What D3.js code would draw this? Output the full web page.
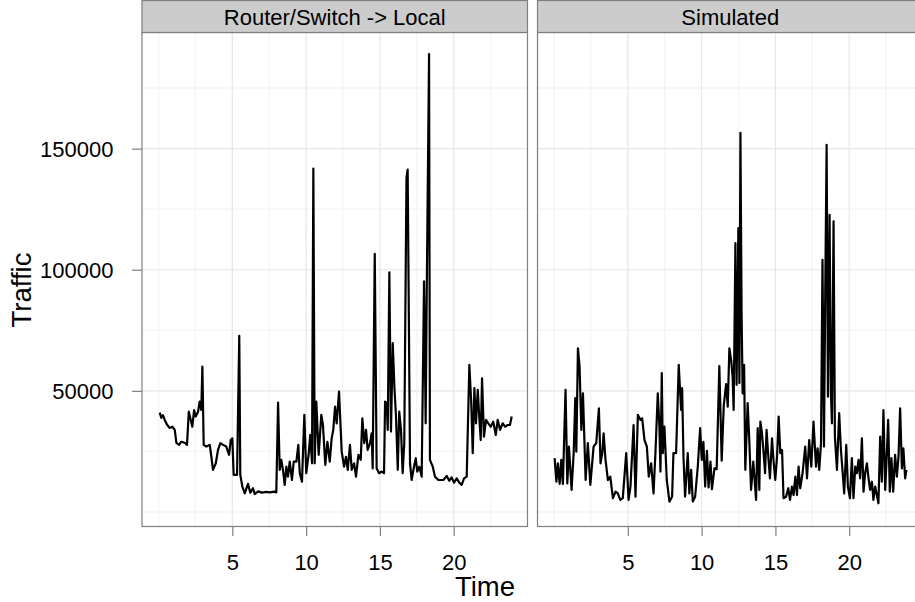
<!DOCTYPE html>
<html>
<head>
<meta charset="utf-8">
<script src="https://cdn.jsdelivr.net/npm/d3@7"></script>
<style>
  html, body { margin: 0; padding: 0; background: #fff; }
  svg { display: block; }
  text { font-family: "Liberation Sans", Arial, Helvetica, sans-serif; }
</style>
</head>
<body>
<svg id="chart" width="915" height="602"></svg>
<script>
// ---------------- DATA ----------------
const panelTitles = ["Router/Switch -> Local", "Simulated"];
const xTickValues = [5, 10, 15, 20];
const yTickValues = [50000, 100000, 150000];
const xMinorValues = [0, 2.5, 7.5, 12.5, 17.5, 22.5];
const yMinorValues = [0, 25000, 75000, 125000, 175000];

const routerTime = [0.08,0.19,0.30,0.42,0.58,0.76,0.93,1.10,1.21,1.39,1.54,1.78,1.93,2.05,2.15,2.29,2.41,2.52,2.68,2.79,2.90,2.97,3.06,3.24,3.47,3.58,3.69,3.88,4.03,4.19,4.37,4.59,4.78,4.89,5.00,5.09,5.32,5.47,5.54,5.68,5.84,6.06,6.22,6.40,6.52,6.74,7.01,7.28,7.55,7.83,7.98,8.10,8.21,8.32,8.43,8.55,8.66,8.77,8.89,9.04,9.16,9.34,9.47,9.57,9.72,9.88,10.01,10.18,10.28,10.40,10.49,10.58,10.69,10.85,11.03,11.14,11.30,11.44,11.60,11.73,11.84,11.96,12.07,12.23,12.41,12.57,12.70,12.82,12.97,13.09,13.25,13.38,13.54,13.70,13.81,13.94,14.06,14.17,14.33,14.44,14.51,14.65,14.78,14.94,15.12,15.28,15.35,15.46,15.53,15.64,15.75,15.87,15.98,16.09,16.21,16.31,16.43,16.54,16.65,16.80,16.88,17.04,17.15,17.31,17.43,17.53,17.67,17.83,17.99,18.10,18.17,18.33,18.39,18.58,18.73,18.96,19.30,19.53,19.70,19.86,20.02,20.20,20.38,20.54,20.70,20.88,21.06,21.19,21.29,21.40,21.51,21.63,21.73,21.83,21.92,22.05,22.19,22.34,22.51,22.68,22.85,22.98,23.14,23.32,23.48,23.66,23.81,23.93];
const routerTraffic = [41000,38800,40000,38000,36000,34700,35200,33900,28500,27700,29000,28600,27700,41400,38800,35200,42100,39400,41400,45600,42100,60000,27700,27000,27700,22800,17400,20100,25600,28400,27700,27000,23600,29700,30400,15300,15300,72700,15300,10500,7700,11600,8000,9800,7400,8500,8000,8300,8100,8400,8100,45200,17400,21500,17400,11200,18700,14600,20800,13200,20800,20800,27700,16000,12500,40100,16000,24300,31800,20100,141700,20100,45600,23600,40100,36000,19400,29000,20800,30400,33900,43500,36600,49700,24900,18700,22800,17400,27700,17400,20100,14600,23600,21500,38700,28400,33900,25600,28400,32500,18000,106600,18000,16000,16700,16000,45600,44900,33900,98900,33200,69700,51800,39400,17400,41400,33900,16000,28400,138000,141300,20100,13200,18700,22200,16700,18700,14600,95200,36600,89000,189000,21500,18700,14600,13200,13200,14900,12900,14300,12100,13900,12100,11200,13900,14600,60700,44900,24300,51100,36600,50400,39400,29700,55200,31100,38000,36600,35200,37300,31800,38000,33900,36600,35200,35900,35900,39400];

const simTime = [0.04,0.16,0.26,0.38,0.49,0.60,0.78,0.90,1.01,1.19,1.33,1.44,1.51,1.62,1.73,1.85,1.96,2.14,2.29,2.46,2.68,2.86,3.04,3.15,3.27,3.36,3.49,3.65,3.81,3.99,4.17,4.32,4.49,4.66,4.89,5.05,5.18,5.39,5.52,5.68,5.86,5.97,6.13,6.29,6.42,6.58,6.74,6.87,7.03,7.14,7.21,7.30,7.37,7.48,7.64,7.82,8.00,8.09,8.27,8.45,8.61,8.68,8.77,8.88,9.06,9.17,9.29,9.40,9.56,9.74,9.90,10.01,10.12,10.24,10.36,10.47,10.60,10.70,10.87,11.02,11.20,11.36,11.50,11.66,11.77,11.88,12.00,12.10,12.17,12.29,12.37,12.49,12.56,12.63,12.71,12.78,12.88,12.96,13.12,13.23,13.35,13.50,13.69,13.80,13.91,13.98,14.09,14.20,14.30,14.40,14.52,14.63,14.77,14.86,14.99,15.11,15.22,15.33,15.45,15.55,15.72,15.87,15.99,16.12,16.23,16.35,16.46,16.57,16.68,16.84,17.02,17.14,17.29,17.43,17.58,17.75,17.86,17.97,18.09,18.19,18.29,18.38,18.47,18.56,18.67,18.76,18.83,18.94,19.03,19.17,19.32,19.44,19.55,19.66,19.80,19.91,20.05,20.18,20.29,20.41,20.52,20.63,20.74,20.86,20.97,21.08,21.20,21.31,21.42,21.54,21.64,21.76,21.87,21.98,22.10,22.21,22.32,22.44,22.55,22.64,22.75,22.86,22.98,23.11,23.23,23.34,23.45,23.57,23.67,23.79,23.88];
const simTraffic = [22200,12500,20100,11600,21500,11600,50400,11800,27000,9100,24300,47000,24900,67600,60000,33900,49000,13200,28400,11200,27000,28400,42800,20100,24300,32500,21500,13200,14600,5700,8400,7700,5000,5700,24300,5000,10500,35900,6300,40100,38000,38700,29700,27000,14600,20100,7700,24300,49000,35200,16700,57300,24300,35200,13200,4300,6300,24300,24300,60700,42100,51100,22800,6300,24300,7700,17400,4300,6300,18700,34600,21500,29000,10500,25200,10100,20800,9400,18000,17700,60200,21200,44000,52800,43500,67600,62800,55900,42100,111000,52500,117200,53200,156500,80700,49000,60700,17400,44900,29700,9100,20800,5000,34600,9100,37300,32500,24300,16000,33900,22800,13900,30400,22200,13200,22800,39400,24300,25600,5700,6300,9800,5000,10500,7000,14600,7000,18700,9800,16000,27000,13900,29700,18700,37300,18700,26300,17400,28400,104100,27000,93100,151600,47600,122700,49000,36600,120000,31100,17400,40800,25600,16700,7700,27700,10500,5700,22200,5700,18700,16000,21500,13900,30400,8400,16000,20100,13900,9100,12500,5000,10500,7000,3600,31100,12500,42100,9100,24300,38000,8400,22200,8400,23600,14600,22800,42800,18000,26300,13900,17400];

// ---------------- LAYOUT ----------------
const W = 915, H = 602;
const panelW = 385.5;
const panelLefts = [142, 537.5];
const panelTop = 32.5, panelBottom = 526.5;
const stripTop = 0.5;

const svg = d3.select("#chart");

const yScale = d3.scaleLinear().domain([-5992, 197934]).range([panelBottom, panelTop]);

const seriesList = [
  { title: panelTitles[0], time: routerTime, traffic: routerTraffic },
  { title: panelTitles[1], time: simTime, traffic: simTraffic }
];

const defs = svg.append("defs");

seriesList.forEach((s, i) => {
  const x0 = panelLefts[i];
  const xScale = d3.scaleLinear().domain([-1.12, 25.0]).range([x0, x0 + panelW]);
  const g = svg.append("g");

  g.append("rect").attr("x", x0).attr("y", panelTop).attr("width", panelW)
    .attr("height", panelBottom - panelTop).attr("fill", "#fff");

  // minor grid
  g.selectAll(".gxm").data(xMinorValues).join("line")
    .attr("x1", d => xScale(d)).attr("x2", d => xScale(d))
    .attr("y1", panelTop).attr("y2", panelBottom)
    .attr("stroke", "#f5f5f5").attr("stroke-width", 1.4);
  g.selectAll(".gym").data(yMinorValues).join("line")
    .attr("x1", x0).attr("x2", x0 + panelW)
    .attr("y1", d => yScale(d)).attr("y2", d => yScale(d))
    .attr("stroke", "#f5f5f5").attr("stroke-width", 1.4);
  // major grid
  g.selectAll(".gxM").data(xTickValues).join("line")
    .attr("x1", d => xScale(d)).attr("x2", d => xScale(d))
    .attr("y1", panelTop).attr("y2", panelBottom)
    .attr("stroke", "#e6e6e6").attr("stroke-width", 1.2);
  g.selectAll(".gyM").data(yTickValues).join("line")
    .attr("x1", x0).attr("x2", x0 + panelW)
    .attr("y1", d => yScale(d)).attr("y2", d => yScale(d))
    .attr("stroke", "#e6e6e6").attr("stroke-width", 1.2);

  const cid = "clip" + i;
  defs.append("clipPath").attr("id", cid).append("rect")
    .attr("x", x0).attr("y", panelTop).attr("width", panelW).attr("height", panelBottom - panelTop);

  const pts = s.time.map((t, k) => [t, s.traffic[k]]);
  const line = d3.line().x(d => xScale(d[0])).y(d => yScale(d[1]));
  g.append("path").datum(pts)
    .attr("clip-path", `url(#${cid})`)
    .attr("d", line)
    .attr("fill", "none").attr("stroke", "#000").attr("stroke-width", 2.2)
    .attr("stroke-linejoin", "round");

  // panel border
  g.append("rect").attr("x", x0).attr("y", panelTop).attr("width", panelW)
    .attr("height", panelBottom - panelTop).attr("fill", "none")
    .attr("stroke", "#7f7f7f").attr("stroke-width", 1.2);

  // strip
  g.append("rect").attr("x", x0).attr("y", stripTop).attr("width", panelW)
    .attr("height", panelTop - stripTop).attr("fill", "#cccccc")
    .attr("stroke", "#7f7f7f").attr("stroke-width", 1.2);
  g.append("text").attr("x", x0 + panelW / 2).attr("y", 24.5)
    .attr("text-anchor", "middle").attr("font-size", 22).attr("fill", "#000")
    .text(s.title);

  // x axis
  const xAxis = d3.axisBottom(xScale).tickValues(xTickValues).tickSize(9.5).tickPadding(24).tickFormat(d3.format("d"));
  const ax = svg.append("g").attr("transform", `translate(0,${panelBottom})`).call(xAxis);
  ax.select(".domain").remove();
  ax.selectAll(".tick line").attr("stroke", "#7f7f7f").attr("stroke-width", 1.2);
  ax.selectAll(".tick text").attr("font-size", 22).attr("fill", "#000")
    .attr("font-family", "Liberation Sans, Arial, sans-serif").attr("dy", 0).attr("y", 43.5);

  if (i === 0) {
    const yAxis = d3.axisLeft(yScale).tickValues(yTickValues).tickSize(10).tickPadding(18).tickFormat(d3.format("d"));
    const ay = svg.append("g").attr("transform", `translate(${x0},0)`).call(yAxis);
    ay.select(".domain").remove();
    ay.selectAll(".tick line").attr("stroke", "#7f7f7f").attr("stroke-width", 1.2);
    ay.selectAll(".tick text").attr("font-size", 22).attr("fill", "#000")
      .attr("font-family", "Liberation Sans, Arial, sans-serif").attr("x", -28.5).attr("dy", "0.35em");
  }
});

// axis titles
svg.append("text").attr("x", 485).attr("y", 595.5).attr("text-anchor", "middle")
  .attr("font-size", 27.5).attr("fill", "#000").text("Time");
svg.append("text").attr("transform", "translate(31,290) rotate(-90)")
  .attr("text-anchor", "middle").attr("font-size", 27.5).attr("fill", "#000").text("Traffic");
</script>
</body>
</html>
